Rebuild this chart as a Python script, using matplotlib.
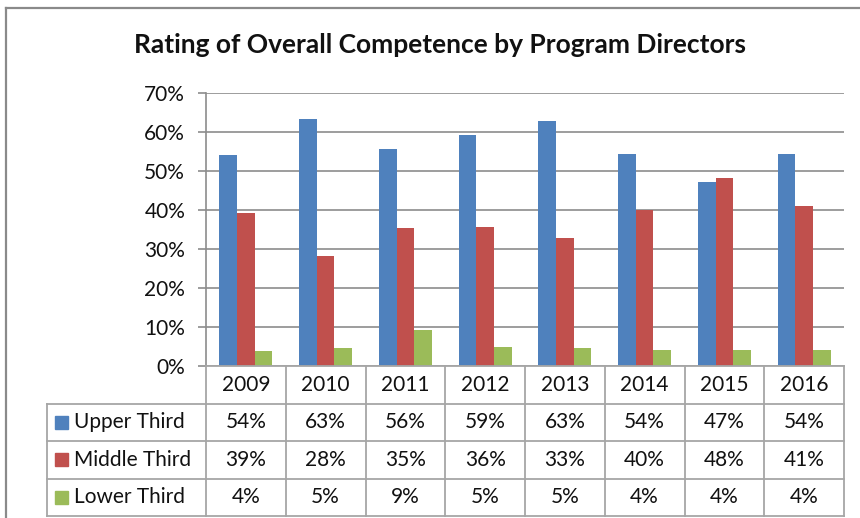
import matplotlib
matplotlib.use("Agg")
from matplotlib import pyplot as plt
from matplotlib.lines import Line2D
from matplotlib.patches import Rectangle
import numpy as np

plt.rcParams["font.family"] = ["Lato", "DejaVu Sans"]

# data (bar heights, table shows them rounded)
YEARS = ["2009", "2010", "2011", "2012", "2013", "2014", "2015", "2016"]
SERIES = ["Upper Third", "Middle Third", "Lower Third"]
upper = [54.0, 63.4, 55.7, 59.3, 62.8, 54.3, 47.2, 54.3]
middle = [39.2, 28.2, 35.4, 35.6, 32.7, 40.0, 48.1, 40.9]
lower = [3.8, 4.6, 9.3, 4.9, 4.6, 4.1, 4.1, 4.1]
COLORS = ["#4F81BD", "#C0504D", "#9BBB59"]
TITLE = "Rating of Overall Competence by Program Directors"

W, H = 860, 518
GRID = "#8C8C8C"
FS = 15

fig = plt.figure(figsize=(W / 100, H / 100), dpi=100)


def px_box(x0, y0, x1, y1):
    # pixel box (top-left origin) -> figure fraction rect
    return [x0 / W, 1 - y1 / H, (x1 - x0) / W, (y1 - y0) / H]


# outer chart border (only top and left visible)
fig.add_artist(Line2D([6 / W, 1], [1 - 8 / H, 1 - 8 / H], color="#8A8A8A", lw=1.6))
fig.add_artist(Line2D([6 / W, 6 / W], [0, 1 - 8 / H], color="#8A8A8A", lw=1.6))

fig.text(440 / W, 1 - 45 / H, TITLE, ha="center", va="center",
         fontsize=19, fontweight="bold", color="#111111")

ax = fig.add_axes(px_box(206, 93, 844, 366))
x = np.arange(len(YEARS))
bw = 1 / 4.5
for i, (vals, c) in enumerate(zip([upper, middle, lower], COLORS)):
    ax.bar(x + (i - 1) * bw, np.array(vals) / 100, width=bw, color=c, zorder=3)

ax.set_xlim(-0.5, len(YEARS) - 0.5)
ax.set_ylim(0, 0.7)
ax.set_yticks(np.arange(0, 0.71, 0.1))
ax.set_yticklabels([f"{int(round(t * 100))}%" for t in np.arange(0, 0.71, 0.1)], fontsize=FS)
ax.set_xticks([])
ax.yaxis.grid(True, color=GRID, lw=1.2, zorder=0)
for s in ["top", "right", "bottom"]:
    ax.spines[s].set_visible(False)
ax.spines["left"].set_color(GRID)
ax.spines["left"].set_linewidth(1.2)
ax.tick_params(axis="y", length=6, width=1.2, color=GRID, pad=9, labelcolor="#111111")

# data table below the plot
tab = fig.add_axes(px_box(206, 366, 844, 516))
tab.set_xlim(-0.5, len(YEARS) - 0.5)
tab.set_ylim(4, 0)
tab.axis("off")
left = -0.5 - 159 / 79.75
right = len(YEARS) - 0.5
lk = dict(color="#A6A6A6", lw=1.3, clip_on=False)
# horizontal lines
tab.plot([-0.5, right], [0, 0], **lk)
for r in range(1, 5):
    tab.plot([left, right], [r, r], **lk)
# vertical lines
tab.plot([left, left], [1, 4], **lk)
for k in range(len(YEARS) + 1):
    tab.plot([k - 0.5, k - 0.5], [0, 4], **lk)

for k, yr in enumerate(YEARS):
    tab.text(k, 0.5, yr, ha="center", va="center", fontsize=FS, color="#111111")

for r, (name, vals, c) in enumerate(zip(SERIES, [upper, middle, lower], COLORS), start=1):
    tab.add_patch(Rectangle((left + 8 / 79.75, r + 0.5 - 0.17), 13 / 79.75, 0.34,
                            color=c, clip_on=False))
    tab.text(left + 27 / 79.75, r + 0.5, name, ha="left", va="center",
             fontsize=FS, color="#111111")
    for k, v in enumerate(vals):
        tab.text(k, r + 0.5, f"{int(round(v))}%", ha="center", va="center",
                 fontsize=FS, color="#111111")

fig.savefig("out.png", dpi=100)
